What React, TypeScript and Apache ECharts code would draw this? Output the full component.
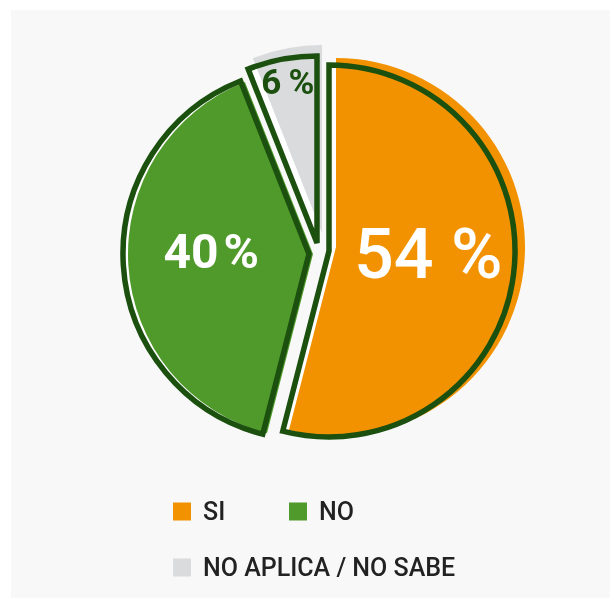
import React, { useEffect, useRef } from "react";
import * as echarts from "echarts";

// ---- data ----
const categories = ["SI", "NO", "NO APLICA / NO SABE"];
const values = [54, 40, 6];
const fillColors = ["#F39200", "#4F9A2A", "#DADBDD"];
const labelColors = ["#FFFFFF", "#FFFFFF", "#1B500F"];

// ---- layout / style (not data) ----
const outlineCenters = [
  [329, 251],
  [309, 254],
  [317, 243],
];
const outlineRadii = [186, 186, 187];
const fillCenters = [
  [336, 247],
  [313, 254],
  [322, 233],
];
const fillRadii = [189, 185, 188];
const labelFont = [
  { size: 70, weight: 500, sep: " " },
  { size: 48, weight: 700, sep: "\u200A" },
  { size: 35, weight: 700, sep: "\u2009" },
];
const labelShift = [
  { dx: 4, dy: -9 },
  { dx: -2, dy: -9 },
  { dx: -11, dy: -66 },
];
const DARK = "#1B500F";
const CLEAR = "rgba(0,0,0,0)";

function pieSeries(
  i: number,
  center: number[],
  radius: number,
  style: any,
  withLabel: boolean
) {
  return {
    type: "pie",
    center,
    radius,
    startAngle: 90,
    clockwise: true,
    silent: true,
    selectedMode: false,
    avoidLabelOverlap: false,
    emphasis: { disabled: true },
    labelLine: { show: false },
    label: { show: false },
    labelLayout: withLabel ? { dx: labelShift[i].dx, dy: labelShift[i].dy } : undefined,
    data: categories.map((name, j) => {
      if (j !== i) {
        return {
          name,
          value: values[j],
          itemStyle: { color: CLEAR, borderWidth: 0 },
          label: { show: false },
        };
      }
      return {
        name,
        value: values[j],
        itemStyle: style,
        label: withLabel
          ? {
              show: true,
              position: "inside",
              formatter: (p: any) => `${p.value}${labelFont[i].sep}%`,
              color: labelColors[i],
              fontFamily: "Roboto",
              fontSize: labelFont[i].size,
              fontWeight: labelFont[i].weight,
            }
          : { show: false },
      };
    }),
  };
}

export default function App() {
  const ref = useRef<HTMLDivElement>(null);

  useEffect(() => {
    if (!ref.current) return;
    const chart = echarts.init(ref.current, undefined, { renderer: "svg" });

    const series: any[] = [];
    for (let i = 0; i < categories.length; i++) {
      series.push(
        pieSeries(i, outlineCenters[i], outlineRadii[i], { color: "#FFFFFF", borderWidth: 0 }, false)
      );
    }
    for (let i = 0; i < categories.length; i++) {
      series.push(
        pieSeries(i, fillCenters[i], fillRadii[i], { color: fillColors[i], borderWidth: 0 }, false)
      );
    }
    for (let i = 0; i < categories.length; i++) {
      series.push(
        pieSeries(
          i,
          outlineCenters[i],
          outlineRadii[i],
          { color: CLEAR, borderColor: DARK, borderWidth: 5.5, borderJoin: "miter" },
          true
        )
      );
    }

    const legendBase = {
      orient: "horizontal",
      icon: "rect",
      itemWidth: 18,
      itemHeight: 18,
      padding: 0,
      selectedMode: false,
      itemStyle: { borderWidth: 0 },
      textStyle: {
        color: "#222222",
        fontFamily: "Roboto",
        fontWeight: 500,
        fontSize: 25,
        lineHeight: 18,
        padding: [0, 0, 0, 7],
      },
    };

    chart.setOption({
      animation: false,
      graphic: [
        {
          type: "rect",
          z: -10,
          silent: true,
          shape: { x: 11, y: 10, width: 599, height: 588 },
          style: { fill: "#F8F8F8" },
        },
      ],
      legend: [
        {
          ...legendBase,
          left: 173,
          top: 499,
          data: [{ name: categories[0], itemStyle: { color: fillColors[0] } }],
        },
        {
          ...legendBase,
          left: 289,
          top: 499,
          data: [{ name: categories[1], itemStyle: { color: fillColors[1] } }],
        },
        {
          ...legendBase,
          left: 173,
          top: 555,
          data: [{ name: categories[2], itemStyle: { color: fillColors[2] } }],
        },
      ],
      series,
    });

    return () => chart.dispose();
  }, []);

  return (
    <div
      ref={ref}
      style={{ position: "fixed", left: 0, top: 0, width: 610, height: 598 }}
    />
  );
}
